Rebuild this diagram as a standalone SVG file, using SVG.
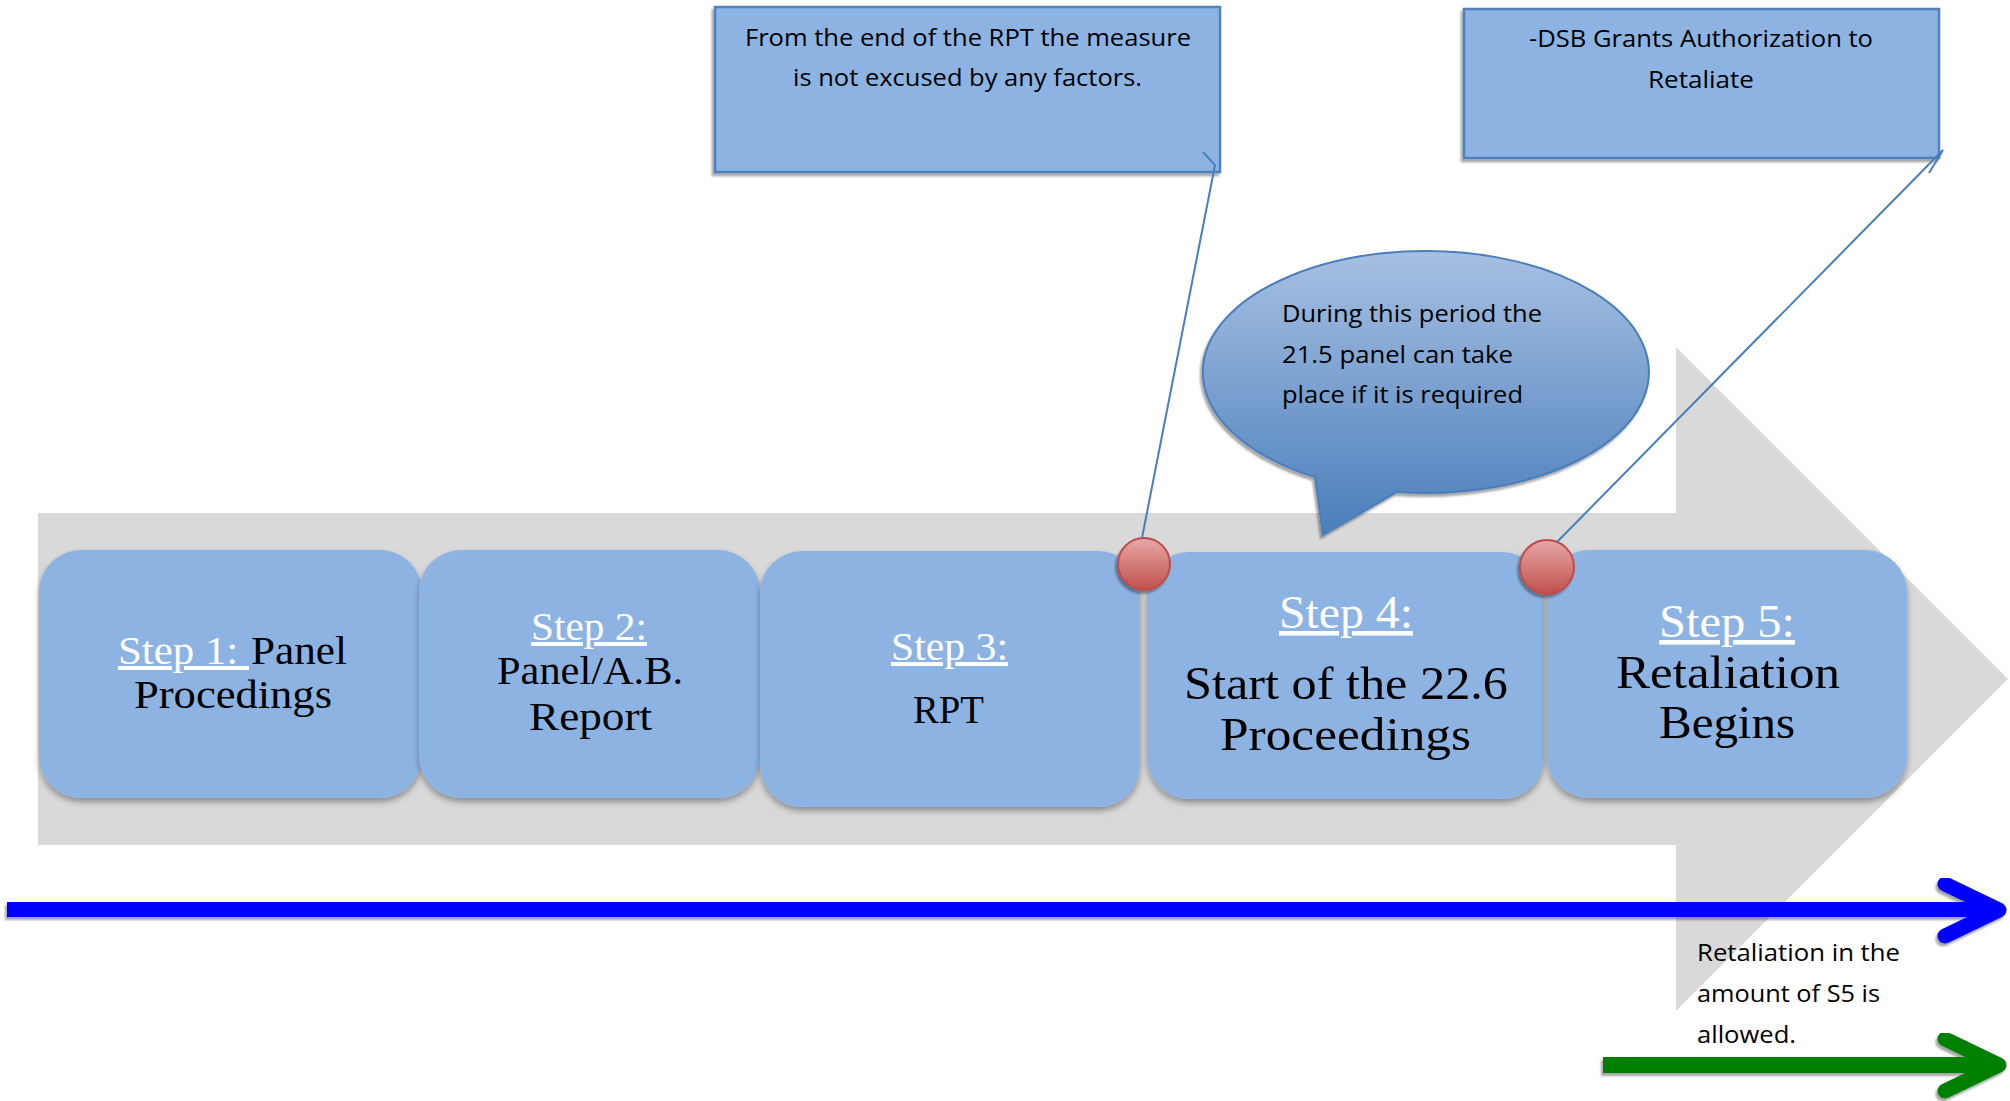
<svg xmlns="http://www.w3.org/2000/svg" width="2010" height="1101" viewBox="0 0 2010 1101">
<style>
.step{fill:#8db3e2;filter:url(#sh)}
.st{font-family:"Liberation Serif",serif;fill:#000}
.sl{fill:#fff;text-decoration:underline}
.cl{font-family:"Open Sans","Liberation Sans",sans-serif;font-size:24px;fill:#000}
.conn{fill:none;stroke:#4a7ebb;stroke-width:2}
.callout{fill:#8db3e2;stroke:#4f81bd;stroke-width:2.5;filter:url(#sh2)}
.dot{fill:url(#rg);stroke:#be4b48;stroke-width:2;filter:url(#sh2)}
</style>
<defs>
<filter id="sh" x="-10%" y="-10%" width="120%" height="130%"><feDropShadow dx="0" dy="4" stdDeviation="3" flood-color="#000" flood-opacity="0.35"/></filter>
<filter id="sh2" x="-10%" y="-10%" width="120%" height="130%"><feDropShadow dx="-2" dy="3" stdDeviation="1" flood-color="#000" flood-opacity="0.35"/></filter>
<linearGradient id="rg" x1="0" y1="0" x2="0" y2="1"><stop offset="0" stop-color="#e6a8a7"/><stop offset="1" stop-color="#c0504d"/></linearGradient>
<linearGradient id="eg" x1="0" y1="0" x2="0" y2="1"><stop offset="0" stop-color="#a7c0e2"/><stop offset="1" stop-color="#4a7ebb"/></linearGradient>
</defs>
<rect width="2010" height="1101" fill="#fff"/>
<polygon id="bigArrow" points="38,513 1676,513 1676,347 2008,679 1676,1011 1676,845 38,845" fill="#d9d9d9"/>
<g id="step1"><rect class="step" x="39" y="550" width="383" height="248" rx="42"/>
<text class="st sl" x="118" y="664" font-size="40" textLength="131" lengthAdjust="spacingAndGlyphs">Step 1:&#160;</text>
<text class="st" x="251" y="664" font-size="40" textLength="96" lengthAdjust="spacingAndGlyphs">Panel</text>
<text class="st" x="134" y="708" font-size="40" textLength="198" lengthAdjust="spacingAndGlyphs">Procedings</text></g>
<g id="step2"><rect class="step" x="419" y="550" width="341" height="248" rx="42"/>
<text class="st sl" x="531" y="640" font-size="40" textLength="116" lengthAdjust="spacingAndGlyphs">Step 2:</text>
<text class="st" x="497" y="684" font-size="40" textLength="186" lengthAdjust="spacingAndGlyphs">Panel/A.B.</text>
<text class="st" x="529" y="730" font-size="40" textLength="123" lengthAdjust="spacingAndGlyphs">Report</text></g>
<g id="step3"><rect class="step" x="760" y="551" width="380" height="256" rx="42"/>
<text class="st sl" x="891" y="660" font-size="40" textLength="117" lengthAdjust="spacingAndGlyphs">Step 3:</text>
<text class="st" x="913" y="723" font-size="40" textLength="71" lengthAdjust="spacingAndGlyphs">RPT</text></g>
<g id="step4"><rect class="step" x="1147" y="552" width="397" height="247" rx="42"/>
<text class="st sl" x="1279" y="628" font-size="46" textLength="134" lengthAdjust="spacingAndGlyphs">Step 4:</text>
<text class="st" x="1184" y="699" font-size="46" textLength="324" lengthAdjust="spacingAndGlyphs">Start of the 22.6</text>
<text class="st" x="1220" y="750" font-size="46" textLength="251" lengthAdjust="spacingAndGlyphs">Proceedings</text></g>
<g id="step5"><rect class="step" x="1547" y="550" width="360" height="248" rx="42"/>
<text class="st sl" x="1659" y="637" font-size="46" textLength="136" lengthAdjust="spacingAndGlyphs">Step 5:</text>
<text class="st" x="1616" y="688" font-size="46" textLength="224" lengthAdjust="spacingAndGlyphs">Retaliation</text>
<text class="st" x="1659" y="738" font-size="46" textLength="136" lengthAdjust="spacingAndGlyphs">Begins</text></g>
<g id="marker1"><circle class="dot" cx="1144" cy="564" r="26"/></g>
<g id="marker2"><circle class="dot" cx="1547" cy="567" r="27"/></g>
<g id="calloutA"><rect class="callout" x="715" y="7" width="505" height="165"/>
<text class="cl" x="745" y="46" textLength="446" lengthAdjust="spacingAndGlyphs">From the end of the RPT the measure</text>
<text class="cl" x="793" y="86" textLength="349" lengthAdjust="spacingAndGlyphs">is not excused by any factors.</text></g>
<g id="calloutB"><rect class="callout" x="1464" y="9" width="475" height="149"/>
<text class="cl" x="1529" y="47" textLength="344" lengthAdjust="spacingAndGlyphs">-DSB Grants Authorization to</text>
<text class="cl" x="1648" y="88" textLength="106" lengthAdjust="spacingAndGlyphs">Retaliate</text></g>
<g id="connectors">
<polyline class="conn" points="1142,538 1215,165 1203,152"/>
<polyline class="conn" points="1557,542 1943,150 1929,173"/>
</g>
<g id="bubble"><path d="M1315,477 L1323,535 L1397,492 A223,121 0 1 0 1315,477 Z" fill="url(#eg)" stroke="#4a7ebb" stroke-width="2" filter="url(#sh2)"/>
<text class="cl" x="1282" y="322" textLength="260" lengthAdjust="spacingAndGlyphs">During this period the</text>
<text class="cl" x="1282" y="363" textLength="231" lengthAdjust="spacingAndGlyphs">21.5 panel can take</text>
<text class="cl" x="1282" y="403" textLength="241" lengthAdjust="spacingAndGlyphs">place if it is required</text></g>
<g id="timeline" filter="url(#sh2)">
<line x1="7" y1="909.5" x2="1995" y2="909.5" stroke="#0000ff" stroke-width="15"/>
<polyline points="1945,884 1999,910 1945,936" fill="none" stroke="#0000ff" stroke-width="15" stroke-linecap="round" stroke-linejoin="round"/>
</g>
<g id="retaliation" filter="url(#sh2)">
<line x1="1603" y1="1065" x2="1995" y2="1065" stroke="#008000" stroke-width="16"/>
<polyline points="1945,1039 1999,1065 1945,1091" fill="none" stroke="#008000" stroke-width="15" stroke-linecap="round" stroke-linejoin="round"/>
</g>
<g id="note">
<text class="cl" x="1697" y="961" textLength="203" lengthAdjust="spacingAndGlyphs">Retaliation in the</text>
<text class="cl" x="1697" y="1002" textLength="183" lengthAdjust="spacingAndGlyphs">amount of S5 is</text>
<text class="cl" x="1697" y="1043" textLength="99" lengthAdjust="spacingAndGlyphs">allowed.</text>
</g>
</svg>
